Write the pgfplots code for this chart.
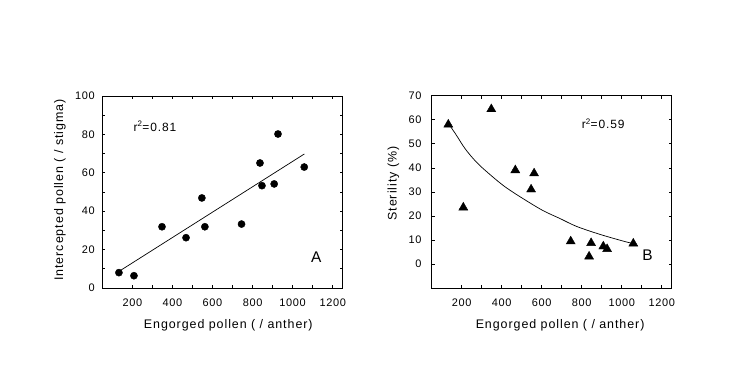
\documentclass[border=0pt]{standalone}
\usepackage{fontspec}
\setmainfont{Liberation Sans}
\usepackage{pgfplots}
\pgfplotsset{compat=1.18}
\newfontfamily\tickf[LetterSpace=6]{Liberation Sans}
\newfontfamily\labf[LetterSpace=7.5]{Liberation Sans}
\pgfplotsset{panel/.style={
  scale only axis, anchor=south west,
  xmin=50, xmax=1250, xtick={200,400,...,1200}, minor x tick num=1,
  tick align=inside, tick pos=both,
  major tick length=3bp, minor tick length=3bp,
  axis line style={line width=0.8bp},
  every tick/.style={line width=0.6bp, black},
  /pgf/number format/assume math mode=true,
  /pgf/number format/1000 sep={},
  tick label style={font=\tickf\fontsize{11}{13}\selectfont},
  xticklabel style={anchor=center, yshift=-15bp},
  label style={font=\labf\fontsize{12.5}{15}\selectfont},
  clip=false,
}}
\begin{document}
\begin{tikzpicture}
\path[use as bounding box] (0bp,0bp) rectangle (743bp,383bp);
% ---------- Panel A ----------
\begin{axis}[panel,
  at={(102.3bp,95bp)}, width=240.4bp, height=192bp,
  ymin=0, ymax=100, ytick={0,20,...,100}, minor y tick num=1,
  yticklabel style={anchor=east, xshift=-4bp},
  xlabel={Engorged pollen ( / anther)},
  xlabel style={at={(axis description cs:0.524,-0.195)}, anchor=center},
  ylabel={Intercepted pollen ( / stigma)},
  ylabel style={at={(axis description cs:-0.176,0.51)}, anchor=center},
]
\addplot[only marks, mark=*, mark size=3.6, black] coordinates {
 (133,8.0) (208,6.4) (348,31.9) (468,26.2) (547,46.9) (562,31.9)
 (745,33.3) (837,65.1) (847,53.3) (908,54.2) (927,80.2) (1058,63.0)};
\addplot[black, line width=0.7bp] coordinates {(138.5,9.0) (1058.5,69.8)};
\node[anchor=base west, font=\labf\fontsize{12}{14}\selectfont] at (axis cs:188.5,81.6) {r\textsuperscript{2}=0.81};
\node[font=\fontsize{15.5}{18}\selectfont] at (axis cs:1118.5,16.0) {A};
\end{axis}
% ---------- Panel B ----------
\begin{axis}[panel,
  at={(431.7bp,95bp)}, width=240bp, height=192.3bp,
  ymin=-10, ymax=70, ytick={0,10,...,70},
  yticklabel style={anchor=east, xshift=-6.6bp},
  xlabel={Engorged pollen ( / anther)},
  xlabel style={at={(axis description cs:0.535,-0.195)}, anchor=center},
  ylabel={Sterility (\%)},
  ylabel style={at={(axis description cs:-0.16,0.543)}, anchor=center, font=\labf\fontsize{12.5}{15}\selectfont},
]
\addplot[only marks, mark=triangle*, mark size=5.2, black] coordinates {
 (133,58.0) (208,23.5) (348,64.4) (468,39.0) (547,31.0) (562,37.7)
 (745,9.4) (837,3.1) (847,8.7) (908,7.3) (927,6.2) (1058,8.5)};
\addplot[black, line width=0.7bp, smooth] coordinates {
 (133,58.5) (170,54.0) (216.5,48.0) (266.5,43.0) (316.5,39.0) (425,31.6)
 (591.5,22.9) (691.5,18.9) (775,15.6) (891.5,12.3) (1008,9.5) (1052,8.6)};
\node[anchor=base west, font=\labf\fontsize{12}{14}\selectfont] at (axis cs:783,56.4) {r\textsuperscript{2}=0.59};
\node[font=\fontsize{15.5}{18}\selectfont] at (axis cs:1129,3.8) {B};
\end{axis}
\end{tikzpicture}
\end{document}
